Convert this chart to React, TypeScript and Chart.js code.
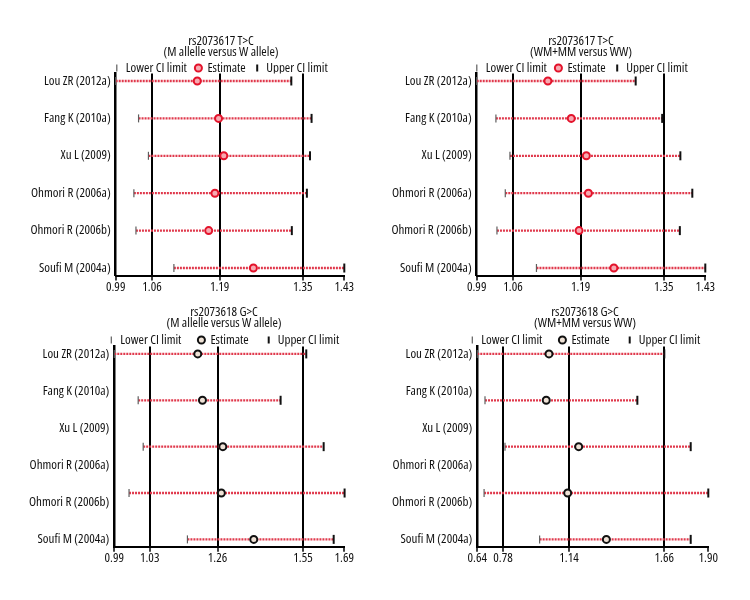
import React, { useEffect, useRef } from "react";
import { Chart, registerables } from "chart.js";

Chart.register(...registerables);

// ---------- data ----------
const studyLabels = [
  "Lou ZR (2012a)",
  "Fang K (2010a)",
  "Xu L (2009)",
  "Ohmori R (2006a)",
  "Ohmori R (2006b)",
  "Soufi M (2004a)",
];

const legendLabels = ["Lower CI limit", "Estimate", "Upper CI limit"];

// rs2073617 T>C, M allele versus W allele
const titleA = ["rs2073617 T>C", "(M allelle versus W allele)"];
const estA = [1.147, 1.188, 1.198, 1.181, 1.169, 1.255];
const lowA = [0.99, 1.034, 1.053, 1.025, 1.029, 1.102];
const upA = [1.328, 1.367, 1.364, 1.358, 1.329, 1.43];
const tickValuesA = [0.99, 1.06, 1.19, 1.35, 1.43];
const tickLabelsA = ["0.99", "1.06", "1.19", "1.35", "1.43"];

// rs2073617 T>C, WM+MM versus WW
const titleB = ["rs2073617 T>C", "(WM+MM versus WW)"];
const estB = [1.127, 1.172, 1.201, 1.205, 1.187, 1.254];
const lowB = [0.99, 1.027, 1.054, 1.045, 1.029, 1.105];
const upB = [1.296, 1.347, 1.382, 1.405, 1.381, 1.43];
const tickValuesB = [0.99, 1.06, 1.19, 1.35, 1.43];
const tickLabelsB = ["0.99", "1.06", "1.19", "1.35", "1.43"];

// rs2073618 G>C, M allele versus W allele (5 plotted rows)
const titleC = ["rs2073618 G>C", "(M allelle versus W allele)"];
const estC = [1.193, 1.209, 1.278, 1.273, 1.383];
const lowC = [0.91, 0.991, 1.008, 0.96, 1.158];
const upC = [1.561, 1.474, 1.62, 1.691, 1.654];
const tickValuesC = [0.91, 1.03, 1.26, 1.55, 1.69];
const tickLabelsC = ["0.99", "1.03", "1.26", "1.55", "1.69"];

// rs2073618 G>C, WM+MM versus WW (5 plotted rows)
const titleD = ["rs2073618 G>C", "(WM+MM versus WW)"];
const estD = [1.031, 1.016, 1.193, 1.133, 1.344];
const lowD = [0.64, 0.682, 0.791, 0.677, 0.98];
const upD = [1.66, 1.513, 1.804, 1.9, 1.804];
const tickValuesD = [0.64, 0.78, 1.14, 1.66, 1.9];
const tickLabelsD = ["0.64", "0.78", "1.14", "1.66", "1.90"];

// ---------- styling / layout ----------
const FAMILY = "'Open Sans', 'Liberation Sans', sans-serif";
const WEIGHT_STRETCH = "500 condensed"; // canvas font shorthand: weight + font-stretch
const TEXT = "#111111";

type Panel = {
  title: string[];
  est: number[];
  low: number[];
  up: number[];
  tickValues: number[];
  tickLabels: string[];
  estBorder: string;
  estFill: string;
};

type Box = {
  left: number;
  top: number;
  width: number;
  height: number;
  padT: number;
  padB: number;
  axisW: number;
  rightW: number;
  legendPad: number;
  legendMaxH: number;
  titleBottom: number;
};

const panels: { panel: Panel; box: Box }[] = [
  {
    panel: { title: titleA, est: estA, low: lowA, up: upA, tickValues: tickValuesA, tickLabels: tickLabelsA, estBorder: "#e3132b", estFill: "#f7a9b1" },
    box: { left: 0, top: 0, width: 442, height: 300, padT: 36.5, padB: 4.5, axisW: 115.7, rightW: 97.7, legendPad: 9, legendMaxH: 21, titleBottom: -4.8 },
  },
  {
    panel: { title: titleB, est: estB, low: lowB, up: upB, tickValues: tickValuesB, tickLabels: tickLabelsB, estBorder: "#e3132b", estFill: "#f7a9b1" },
    box: { left: 380, top: 0, width: 402, height: 300, padT: 36.5, padB: 4.5, axisW: 96.7, rightW: 76.7, legendPad: 9, legendMaxH: 21, titleBottom: -4.8 },
  },
  {
    panel: { title: titleC, est: estC, low: lowC, up: upC, tickValues: tickValuesC, tickLabels: tickLabelsC, estBorder: "#111111", estFill: "#efe2d6" },
    box: { left: 0, top: 300, width: 448, height: 300, padT: 7.3, padB: 33.2, axisW: 114.3, rightW: 103.7, legendPad: 17.5, legendMaxH: 30.5, titleBottom: -12.1 },
  },
  {
    panel: { title: titleD, est: estD, low: lowD, up: upD, tickValues: tickValuesD, tickLabels: tickLabelsD, estBorder: "#111111", estFill: "#efe2d6" },
    box: { left: 380, top: 300, width: 410, height: 300, padT: 7.3, padB: 33.2, axisW: 97.3, rightW: 81.7, legendPad: 17.5, legendMaxH: 30.5, titleBottom: -12.1 },
  },
];

function buildConfig(p: Panel, b: Box): any {
  const nLab = studyLabels.length;
  const nData = p.est.length;
  const labPad = 0.2;
  const dataPad = nLab > 1 ? (labPad * (nData - 1)) / (nLab - 1) : labPad;
  const xMin = p.tickValues[0];
  const xMax = p.tickValues[p.tickValues.length - 1];
  const f = (size: number, extra: any = {}) => ({ family: FAMILY, weight: WEIGHT_STRETCH, size, ...extra });

  const ciData: any[] = [];
  p.low.forEach((l, i) => {
    ciData.push({ x: l, y: i }, { x: p.up[i], y: i }, { x: NaN, y: NaN });
  });

  return {
    type: "scatter",
    data: {
      datasets: [
        {
          label: legendLabels[0],
          data: p.low.map((x, i) => ({ x, y: i })),
          yAxisID: "yData",
          pointStyle: "line",
          pointRotation: 90,
          pointRadius: 4,
          borderColor: "#5e5e5e",
          pointBorderColor: "#5e5e5e",
          backgroundColor: "#5e5e5e",
          borderWidth: 1.2,
          pointBorderWidth: 1.2,
          order: 1,
          clip: false,
        },
        {
          label: legendLabels[1],
          data: p.est.map((x, i) => ({ x, y: i })),
          yAxisID: "yData",
          pointStyle: "circle",
          pointRadius: 3.5,
          borderColor: p.estBorder,
          pointBorderColor: p.estBorder,
          backgroundColor: p.estFill,
          pointBackgroundColor: p.estFill,
          borderWidth: 2,
          pointBorderWidth: 2,
          order: 0,
          clip: false,
        },
        {
          label: legendLabels[2],
          data: p.up.map((x, i) => ({ x, y: i })),
          yAxisID: "yData",
          pointStyle: "line",
          pointRotation: 90,
          pointRadius: 4.5,
          borderColor: "#111111",
          pointBorderColor: "#111111",
          backgroundColor: "#111111",
          borderWidth: 2,
          pointBorderWidth: 2,
          order: 1,
          clip: false,
        },
        {
          label: "CI",
          data: ciData,
          yAxisID: "yData",
          showLine: true,
          spanGaps: false,
          pointRadius: 0,
          borderColor: "#e0394c",
          borderWidth: 2.3,
          borderDash: [2, 1],
          order: 3,
          clip: false,
        },
      ],
    },
    options: {
      responsive: false,
      animation: false,
      events: [],
      layout: { padding: { left: 0, right: 0, top: b.padT, bottom: b.padB } },
      plugins: {
        tooltip: { enabled: false },
        title: {
          display: true,
          text: p.title,
          color: TEXT,
          font: f(13, { lineHeight: 0.8 }),
          padding: { top: 0, bottom: b.titleBottom },
        },
        legend: {
          display: true,
          maxHeight: b.legendMaxH,
          labels: {
            filter: (item: any) => item.datasetIndex !== 3,
            sort: (a: any, c: any) => a.datasetIndex - c.datasetIndex,
            usePointStyle: true,
            boxWidth: 5,
            boxHeight: 5,
            padding: b.legendPad,
            color: TEXT,
            font: f(13),
          },
        },
      },
      scales: {
        x: {
          type: "linear",
          min: xMin,
          max: xMax,
          afterBuildTicks: (s: any) => {
            s.ticks = p.tickValues.map((v) => ({ value: v }));
          },
          afterFit: (s: any) => {
            s.height = 20;
          },
          ticks: {
            autoSkip: false,
            maxRotation: 0,
            padding: -1.5,
            color: TEXT,
            font: f(13),
            callback: (_v: any, i: number) => p.tickLabels[i],
          },
          grid: {
            color: (ctx: any) => {
              const v = ctx.tick ? ctx.tick.value : null;
              return v === xMin || v === xMax ? "rgba(0,0,0,0)" : "#000000";
            },
            lineWidth: 2,
            drawTicks: true,
            tickLength: 5,
            tickColor: "#000000",
            tickWidth: 1.5,
          },
          border: { display: true, color: "#000000", width: 2 },
        },
        y: {
          type: "linear",
          reverse: true,
          min: -labPad,
          max: nLab - 1 + labPad,
          afterBuildTicks: (s: any) => {
            s.ticks = studyLabels.map((_, i) => ({ value: i }));
          },
          afterFit: (s: any) => {
            s.width = b.axisW;
          },
          ticks: {
            autoSkip: false,
            padding: 5,
            color: TEXT,
            font: f(13),
            callback: (v: any) => studyLabels[Math.round(v)],
          },
          grid: { display: false, drawTicks: false },
          border: { display: true, color: "#000000", width: 2.5 },
        },
        yData: {
          type: "linear",
          display: false,
          reverse: true,
          min: -dataPad,
          max: nData - 1 + dataPad,
        },
        yR: {
          type: "linear",
          position: "right",
          display: true,
          min: 0,
          max: 1,
          ticks: { display: false },
          grid: { display: false, drawTicks: false },
          border: { display: false },
          afterFit: (s: any) => {
            s.width = b.rightW;
          },
        },
      },
    },
  };
}

function ForestPanel({ panel, box }: { panel: Panel; box: Box }) {
  const ref = useRef<HTMLCanvasElement>(null);
  useEffect(() => {
    if (!ref.current) return;
    const chart = new Chart(ref.current, buildConfig(panel, box));
    return () => chart.destroy();
  }, [panel, box]);
  return (
    <canvas
      ref={ref}
      width={box.width}
      height={box.height}
      style={{ position: "absolute", left: box.left, top: box.top, width: box.width, height: box.height }}
    />
  );
}

export default function App() {
  return (
    <div style={{ position: "absolute", left: 0, top: 0, width: 750, height: 600, background: "#ffffff", overflow: "hidden" }}>
      {panels.map((pb, i) => (
        <ForestPanel key={i} panel={pb.panel} box={pb.box} />
      ))}
    </div>
  );
}
